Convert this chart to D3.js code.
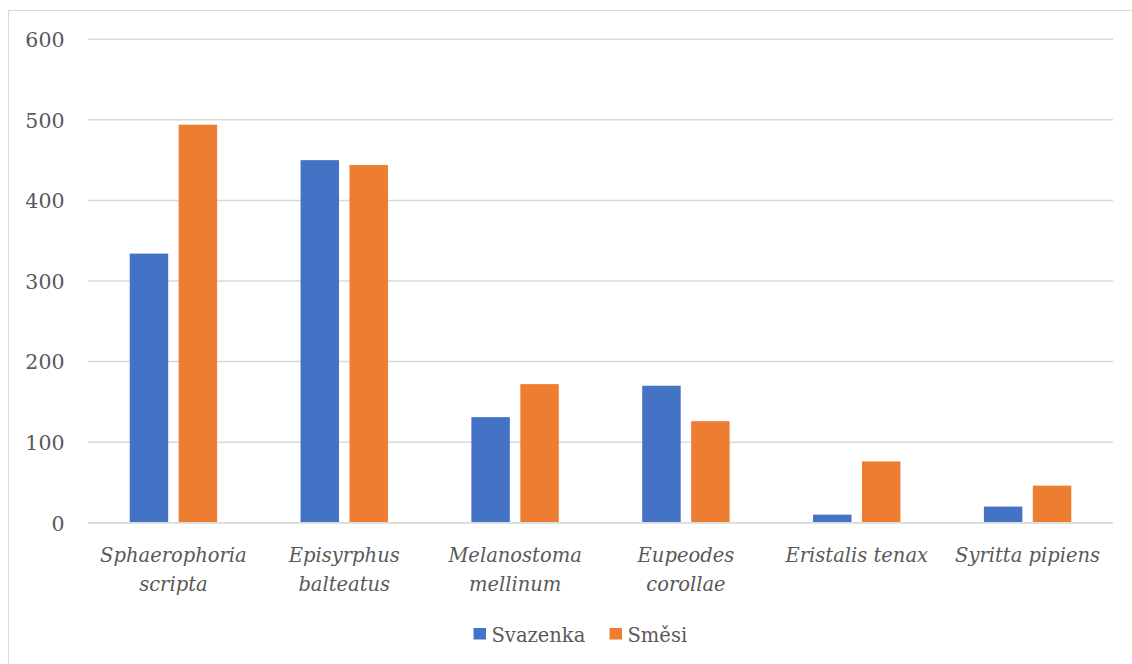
<!DOCTYPE html>
<html>
<head>
<meta charset="utf-8">
<script src="https://cdn.jsdelivr.net/npm/d3@7"></script>
<style>
  html, body { margin: 0; padding: 0; background: #fff; }
  svg { display: block; }
  text { font-family: "DejaVu Serif", serif; fill: #595959; }
</style>
</head>
<body>
<svg id="chart" width="1132" height="664"></svg>
<script>
// Hoverfly counts per species, two habitat types
const categories = [
  "Sphaerophoria scripta",
  "Episyrphus balteatus",
  "Melanostoma mellinum",
  "Eupeodes corollae",
  "Eristalis tenax",
  "Syritta pipiens"
];
// how each category label wraps on the axis
const categoryLines = [
  ["Sphaerophoria", "scripta"],
  ["Episyrphus", "balteatus"],
  ["Melanostoma", "mellinum"],
  ["Eupeodes", "corollae"],
  ["Eristalis tenax"],
  ["Syritta pipiens"]
];
const seriesNames = ["Svazenka", "Směsi"];
const svazenka = [334, 450, 131, 170, 10, 20];
const smesi = [494, 444, 172, 126, 76, 46];
const yTicks = [0, 100, 200, 300, 400, 500, 600];
const colors = ["#4472C4", "#ED7D31"];

const seriesValues = [svazenka, smesi];

const svg = d3.select("#chart");

// outer chart frame
svg.append("rect")
  .attr("x", 8.5).attr("y", 10.5)
  .attr("width", 1140).attr("height", 670)
  .attr("fill", "#fff")
  .attr("stroke", "#d9d9d9").attr("stroke-width", 1);

const plotLeft = 88, plotRight = 1113, plotTop = 39.3, plotBottom = 522.7;

const y = d3.scaleLinear().domain([0, 600]).range([plotBottom, plotTop]);
const x0 = d3.scaleBand().domain(categories).range([plotLeft, plotRight]).padding(0);

const groupHalf = 43.7;
const x1 = d3.scaleBand().domain(seriesNames)
  .range([-groupHalf, groupHalf])
  .paddingInner(0.214).paddingOuter(0);

// horizontal gridlines
svg.append("g")
  .selectAll("line")
  .data(yTicks)
  .join("line")
  .attr("x1", plotLeft).attr("x2", plotRight)
  .attr("y1", d => y(d)).attr("y2", d => y(d))
  .attr("stroke", "#d9d9d9").attr("stroke-width", 1.5);

// y tick labels
const yAxis = d3.axisLeft(y).tickValues(yTicks).tickSize(0).tickPadding(0);
const gy = svg.append("g").attr("transform", `translate(${64.5},0)`).call(yAxis);
gy.attr("font-family", null).attr("font-size", null);
gy.select(".domain").remove();
gy.selectAll("text")
  .style("font-family", "'DejaVu Serif', serif")
  .attr("font-size", 20.5)
  .attr("fill", "#595959")
  .attr("dy", "0.36em");

// bars
const groups = svg.append("g")
  .selectAll("g")
  .data(categories)
  .join("g")
  .attr("transform", d => `translate(${x0(d) + x0.bandwidth() / 2},0)`);

groups.selectAll("rect")
  .data((d, i) => seriesNames.map((s, j) => ({ s, v: seriesValues[j][i], c: colors[j] })))
  .join("rect")
  .attr("x", d => x1(d.s))
  .attr("width", x1.bandwidth())
  .attr("y", d => y(d.v))
  .attr("height", d => y(0) - y(d.v))
  .attr("fill", d => d.c);

// baseline redrawn over bar feet
svg.append("line")
  .attr("x1", plotLeft).attr("x2", plotRight)
  .attr("y1", y(0)).attr("y2", y(0))
  .attr("stroke", "#d9d9d9").attr("stroke-width", 1.5);

// category labels
const labels = svg.append("g")
  .selectAll("text")
  .data(categories)
  .join("text")
  .attr("x", d => x0(d) + x0.bandwidth() / 2)
  .attr("y", 562)
  .attr("text-anchor", "middle")
  .attr("font-size", 19.5)
  .attr("font-style", "italic");

labels.each(function (d, i) {
  d3.select(this).selectAll("tspan")
    .data(categoryLines[i])
    .join("tspan")
    .attr("x", x0(d) + x0.bandwidth() / 2)
    .attr("dy", (t, k) => k === 0 ? 0 : 28.5)
    .text(t => t);
});

// legend
const legendItems = [
  { name: seriesNames[0], color: colors[0], x: 473.5 },
  { name: seriesNames[1], color: colors[1], x: 609.5 }
];
const lg = svg.append("g").selectAll("g").data(legendItems).join("g")
  .attr("transform", d => `translate(${d.x},628)`);
lg.append("rect").attr("width", 12.5).attr("height", 11.5).attr("fill", d => d.color);
lg.append("text").attr("x", 18).attr("y", 13.7)
  .attr("font-size", 19.5)
  .text(d => d.name);
</script>
</body>
</html>
